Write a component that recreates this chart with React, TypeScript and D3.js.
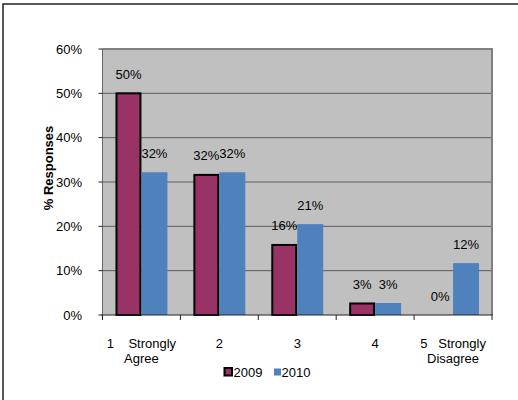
import * as d3 from 'd3';

const categories = ['1', '2', '3', '4', '5'];
const categoryLines = [['1    Strongly', 'Agree'], ['2'], ['3'], ['4'], ['5   Strongly', 'Disagree']];
const series = ['2009', '2010'];
const values2009 = [50, 31.6, 15.8, 2.6, 0];
const values2010 = [32.2, 32.2, 20.5, 2.7, 11.7];
const labels2009 = ['50%', '32%', '16%', '3%', '0%'];
const labels2010 = ['32%', '32%', '21%', '3%', '12%'];
const yTicks = [0, 10, 20, 30, 40, 50, 60];

const colors: Record<string, string> = { '2009': '#993366', '2010': '#4F81BD' };
const FONT = '"Liberation Sans", Arial, sans-serif';

export default function App() {
  const W = 518, H = 400;
  const left = 102.5, right = 492, top = 49, bottom = 315;

  const x = d3.scaleBand().domain(categories).range([left, right]).padding(0);
  const xs = d3.scaleBand().domain(series).range([0, x.bandwidth()]).paddingInner(0).paddingOuter(0.5);
  const y = d3.scaleLinear().domain([0, 60]).range([bottom, top]);

  const rows = categories.map((c, i) => ({
    c,
    items: [
      { s: '2009', v: values2009[i], label: labels2009[i] },
      { s: '2010', v: values2010[i], label: labels2010[i] },
    ],
  }));

  const boundaries = [...categories.map(c => x(c)!), right];

  return (
    <div style={{ position: 'absolute', left: 0, top: 0 }}>
      <svg width={W} height={H} style={{ display: 'block', background: '#fff' }} fontFamily={FONT}>
        {/* outer frame */}
        <path d={`M3,${H} V4 H${W}`} fill="none" stroke="#222" strokeWidth={1.5} />

        {/* plot area */}
        <rect x={left} y={top} width={right - left} height={bottom - top} fill="#C0C0C0" />
        {yTicks.filter(t => t > 0 && t < 60).map(t => (
          <line key={t} x1={left} x2={right} y1={y(t)} y2={y(t)} stroke="#5c5c5c" strokeWidth={1} />
        ))}
        <path d={`M${left},${top} H${right} V${bottom}`} fill="none" stroke="#808080" strokeWidth={2} />

        {/* bars */}
        {rows.map(r => r.items.map(it => {
          const bx = x(r.c)! + xs(it.s)!;
          const by = y(it.v);
          const h = bottom - by;
          if (h <= 0) return null;
          return it.s === '2009' ? (
            <rect key={r.c + it.s} x={bx + 1} y={by} width={xs.bandwidth() - 2} height={h}
              fill={colors[it.s]} stroke="#000" strokeWidth={2} />
          ) : (
            <rect key={r.c + it.s} x={bx} y={by} width={xs.bandwidth()} height={h} fill={colors[it.s]} />
          );
        }))}

        {/* axes */}
        <line x1={left} x2={left} y1={top} y2={bottom} stroke="#666" strokeWidth={1} />
        <line x1={left - 1} x2={right + 1} y1={bottom} y2={bottom} stroke="#222" strokeWidth={1} />
        {yTicks.map(t => (
          <g key={t}>
            <line x1={left - 4} x2={left} y1={y(t)} y2={y(t)} stroke="#222" strokeWidth={1} />
            <text x={82} y={y(t) + 4.5} textAnchor="end" fontSize={13} fill="#000">{t}%</text>
          </g>
        ))}
        {boundaries.map((b, i) => (
          <line key={i} x1={b} x2={b} y1={bottom} y2={bottom + 5} stroke="#222" strokeWidth={1} />
        ))}

        {/* value labels */}
        {rows.map(r => r.items.map(it => (
          <text key={'l' + r.c + it.s} x={x(r.c)! + xs(it.s)! + xs.bandwidth() / 2} y={y(it.v) - 14.5}
            textAnchor="middle" fontSize={13} fill="#000">{it.label}</text>
        )))}

        {/* category labels */}
        {categories.map((c, i) => (
          <text key={'c' + c} x={x(c)! + x.bandwidth() / 2} y={348} textAnchor="middle" fontSize={13} fill="#000"
            style={{ whiteSpace: 'pre' }}>
            {categoryLines[i].map((ln, j) => (
              <tspan key={j} x={x(c)! + x.bandwidth() / 2} dy={j === 0 ? 0 : 15}>{ln}</tspan>
            ))}
          </text>
        ))}

        {/* y title */}
        <text transform="translate(53,168) rotate(-90)" textAnchor="middle" fontSize={13} fontWeight="bold" fill="#000">
          % Responses
        </text>

        {/* legend */}
        <rect x={224.5} y={368} width={7.5} height={7.5} fill={colors['2009']} stroke="#000" strokeWidth={2} />
        <text x={233.5} y={377} fontSize={13} fill="#000">2009</text>
        <rect x={274} y={368.5} width={7} height={7} fill={colors['2010']} />
        <text x={281.5} y={377} fontSize={13} fill="#000">2010</text>
      </svg>
    </div>
  );
}
